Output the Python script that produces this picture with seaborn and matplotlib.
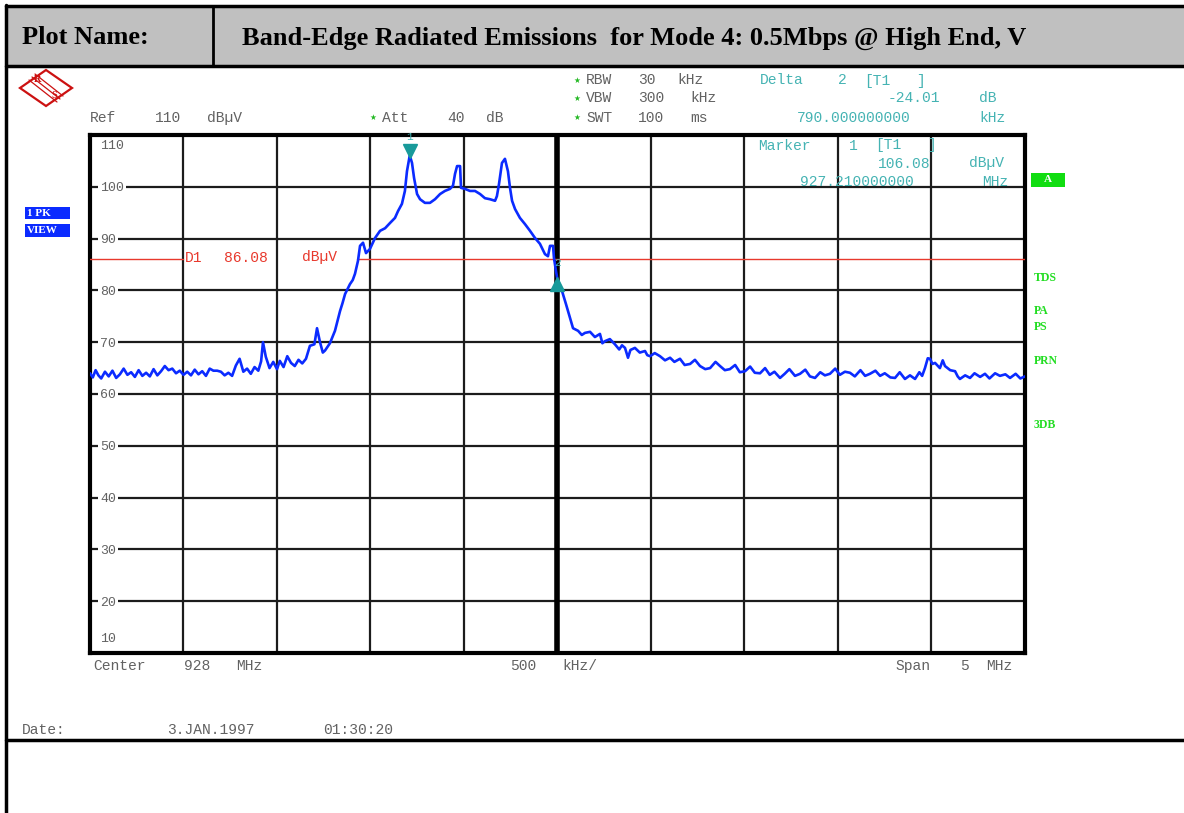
import re
import numpy as np
import pandas as pd
import matplotlib
matplotlib.use("Agg")
import matplotlib.pyplot as plt
import matplotlib.transforms as mtransforms
from matplotlib.patches import Rectangle, Polygon
from matplotlib.lines import Line2D
import seaborn as sns

# ---------------- data ----------------
freq_mhz = [
    925.500, 925.515, 925.530, 925.545, 925.560, 925.580, 925.600, 925.620, 925.640, 925.660,
    925.680, 925.700, 925.720, 925.740, 925.760, 925.780, 925.800, 925.820, 925.840, 925.860,
    925.880, 925.900, 925.920, 925.940, 925.960, 925.980, 926.000, 926.020, 926.040, 926.060,
    926.080, 926.100, 926.120, 926.140, 926.160, 926.180, 926.200, 926.220, 926.240, 926.260,
    926.280, 926.300, 926.320, 926.340, 926.360, 926.380, 926.400, 926.415, 926.425, 926.440,
    926.460, 926.480, 926.500, 926.515, 926.535, 926.555, 926.575, 926.595, 926.615, 926.635,
    926.655, 926.676, 926.700, 926.714, 926.730, 926.745, 926.757, 926.783,
    926.810, 926.837, 926.850, 926.864, 926.890, 926.905, 926.917, 926.933, 926.944, 926.960,
    926.976, 926.997, 927.024, 927.051, 927.078, 927.104, 927.131, 927.147, 927.168, 927.184,
    927.195, 927.210, 927.222, 927.233, 927.249, 927.265, 927.291, 927.318, 927.345, 927.372,
    927.398, 927.425, 927.441, 927.452, 927.463, 927.479, 927.484, 927.505, 927.532, 927.559,
    927.586, 927.612, 927.639, 927.666, 927.676, 927.687, 927.703, 927.719, 927.735, 927.746,
    927.757, 927.773, 927.799, 927.826, 927.853, 927.880, 927.906, 927.933, 927.949, 927.960,
    927.976, 927.981, 927.992, 928.000, 928.024, 928.045, 928.067, 928.083, 928.110, 928.130,
    928.147, 928.174,
    928.200, 928.227, 928.240, 928.254, 928.280, 928.307, 928.330, 928.345, 928.361, 928.377,
    928.390, 928.414, 928.440, 928.468, 928.480, 928.495, 928.520, 928.548, 928.575, 928.602,
    928.625, 928.655, 928.680, 928.709, 928.735, 928.762, 928.790, 928.816, 928.845, 928.869,
    928.895, 928.922, 928.950, 928.975, 929.003, 929.030, 929.055, 929.083, 929.110, 929.135,
    929.160, 929.190, 929.215, 929.240, 929.270, 929.297, 929.325, 929.350, 929.377, 929.405,
    929.430, 929.457, 929.485, 929.510, 929.537, 929.564, 929.590, 929.620, 929.645, 929.671,
    929.700, 929.725, 929.750, 929.780, 929.805, 929.830, 929.858, 929.885, 929.912, 929.935,
    929.950, 929.965, 929.980, 929.992, 930.005, 930.019, 930.045, 930.060, 930.072, 930.100,
    930.126, 930.140, 930.152, 930.180, 930.206, 930.230, 930.260, 930.286, 930.310, 930.340,
    930.366, 930.395, 930.420, 930.450, 930.475, 930.500,
]
level_dbuv = [
    64.0, 63.2, 64.6, 63.6, 63.0, 64.3, 63.4, 64.5, 63.1, 63.8,
    64.9, 63.7, 64.2, 63.3, 64.6, 63.5, 64.1, 63.4, 64.8, 63.6,
    64.4, 65.4, 64.6, 64.9, 64.0, 64.5, 63.7, 64.3, 63.6, 64.7,
    63.8, 64.4, 63.5, 64.9, 64.5, 64.5, 64.3, 63.6, 64.1, 63.5,
    65.5, 66.8, 64.3, 64.9, 63.9, 65.2, 64.5, 66.3, 70.0, 67.2,
    65.0, 66.2, 64.8, 66.4, 65.2, 67.3, 66.0, 65.4, 66.6, 65.9,
    66.8, 69.3, 69.6, 72.7, 70.0, 68.0, 68.4, 69.8,
    72.2, 76.0, 77.5, 79.3, 81.2, 82.0, 83.2, 85.7, 88.6, 89.2,
    87.2, 88.0, 90.1, 91.5, 92.0, 93.0, 94.0, 95.3, 96.7, 99.2,
    103.0, 106.08, 104.6, 101.7, 98.6, 97.6, 96.9, 96.9, 97.6, 98.6,
    99.2, 99.6, 100.2, 102.5, 104.0, 104.0, 99.8, 99.6, 99.2, 99.2,
    98.6, 97.8, 97.6, 97.3, 98.2, 100.5, 104.6, 105.4, 103.0, 99.8,
    97.3, 95.7, 94.0, 92.8, 91.5, 90.1, 89.0, 87.0, 86.6, 88.6,
    88.6, 86.3, 83.7, 82.07, 79.9, 77.4, 74.7, 72.7, 72.2, 71.4,
    71.8, 72.0,
    71.0, 71.6, 69.8, 70.2, 70.6, 69.6, 68.6, 69.4, 68.9, 67.0,
    68.5, 68.9, 68.0, 68.3, 67.5, 67.3, 67.9, 67.3, 66.5, 67.0,
    66.2, 66.8, 65.6, 65.8, 66.6, 65.4, 64.8, 65.0, 66.2, 65.4,
    64.6, 64.8, 65.6, 64.2, 64.4, 65.3, 64.1, 64.0, 65.0, 63.7,
    64.3, 63.1, 63.9, 64.8, 63.5, 63.9, 64.7, 63.4, 63.1, 64.2,
    63.6, 63.9, 64.9, 63.7, 64.3, 64.1, 63.4, 64.6, 63.5, 63.9,
    64.5, 63.5, 64.0, 63.2, 63.1, 64.2, 62.9, 63.6, 62.9, 64.2,
    63.5, 65.0, 66.9, 66.8, 65.8, 66.0, 65.0, 66.5, 65.4, 64.6,
    64.4, 63.4, 62.9, 63.6, 63.1, 64.0, 63.3, 63.9, 63.0, 64.0,
    63.5, 63.8, 63.1, 63.9, 63.0, 63.4,
]
marker_freq = [927.21, 928.00]
marker_level = [106.08, 82.07]
marker_names = ["1", "2"]
display_line_level = 86.08
x_ticks = [925.5, 926.0, 926.5, 927.0, 927.5, 928.0, 928.5, 929.0, 929.5, 930.0, 930.5]
y_ticks = [10, 20, 30, 40, 50, 60, 70, 80, 90, 100, 110]
y_tick_labels = ["10", "20", "30", "40", "50", "60", "70", "80", "90", "100", "110"]

# ---------------- style ----------------
sns.set_style("white")
plt.rcParams["font.family"] = ["Liberation Mono", "DejaVu Sans Mono", "DejaVu Sans"]
plt.rcParams["text.color"] = "black"

W, H = 1184, 813
fig = plt.figure(figsize=(W / 100, H / 100), dpi=100)
fig.patch.set_facecolor("white")


def fx(x):
    return x / W


def fy(y):
    return 1 - y / H


GRAY = "#626262"
TEAL_TXT = "#45B3B3"
TEAL = "#189A9A"
RED = "#E8392D"
GREEN = "#22DD22"
BLUE = "#0B2BFF"
PITCH = 13.0


def mono(x0, y, s, color=GRAY, size=10.5, right=None, **kw):
    if right is not None:
        x0 = right - len(s) * PITCH
    for m in re.finditer(r"\S+", s):
        fig.text(fx(x0 + m.start() * PITCH), fy(y), m.group(), color=color,
                 fontsize=size, family="Liberation Mono", ha="left",
                 va="center_baseline", **kw)


def star(x, y):
    fig.text(fx(x), fy(y), "\u2605", color="#22B822", fontsize=5.5,
             family="DejaVu Sans", ha="center", va="center")


def fline(xs, ys, lw=2.0, color="black"):
    fig.add_artist(Line2D([fx(v) for v in xs], [fy(v) for v in ys], lw=lw,
                          color=color, transform=fig.transFigure))


# ---------------- page frame / header ----------------
fig.add_artist(Rectangle((fx(6), fy(66)), fx(1184) - fx(6), fy(6) - fy(66),
                         transform=fig.transFigure, facecolor="#C0C0C0",
                         edgecolor="none", zorder=0))
fline([6, 1184], [6, 6], lw=2.5)
fline([6, 1184], [66, 66], lw=2.5)
fline([6, 6], [5, 813], lw=2.5)
fline([213, 213], [6, 66], lw=2.0)
fline([6, 1184], [740, 740], lw=2.5)

fig.text(fx(22), fy(38), "Plot Name:", family="Liberation Serif", weight="bold",
         fontsize=19, ha="left", va="center", color="black")
fig.text(fx(242), fy(38), "Band-Edge Radiated Emissions  for Mode 4: 0.5Mbps @ High End, V",
         family="Liberation Serif", weight="bold", fontsize=19, ha="left", va="center",
         color="black")

# R&S logo
fig.add_artist(Polygon([(fx(20), fy(88)), (fx(46), fy(70)), (fx(72), fy(88)), (fx(46), fy(106))],
                       closed=True, fill=False, edgecolor="#CC1111", lw=1.6,
                       transform=fig.transFigure))
for d in (-3, 0, 3):
    fline([32 + d, 60 + d], [77 - d, 99 - d], lw=0.9, color="#CC1111")
fig.text(fx(38), fy(80), "R", color="#CC1111", fontsize=7.5, weight="bold",
         family="Liberation Serif", ha="center", va="center")
fig.text(fx(54), fy(96), "S", color="#CC1111", fontsize=7.5, weight="bold",
         family="Liberation Serif", ha="center", va="center")

# ---------------- instrument header texts ----------------
mono(90, 116, "Ref  110 dBµV")
star(373, 117)
mono(382, 116, "Att  40 dB")
star(577, 80)
mono(586, 79, "RBW 30 kHz")
star(577, 98)
mono(586, 97, "VBW 300 kHz")
star(577, 117)
mono(586, 116, "SWT 100 ms")
mono(760, 79, "Delta 2 [T1 ]", color=TEAL_TXT)
mono(0, 97, "-24.01 dB", color=TEAL_TXT, right=1005)
mono(0, 116, "790.000000000 kHz", color=TEAL_TXT, right=1018)

# ---------------- the trace ----------------
ax = fig.add_axes([fx(90), fy(653), fx(1025) - fx(90), fy(135) - fy(653)])
df = pd.DataFrame({"Frequency (MHz)": freq_mhz, "Level (dBµV)": level_dbuv})
sns.lineplot(data=df, x="Frequency (MHz)", y="Level (dBµV)", ax=ax, color=BLUE,
             linewidth=1.9, estimator=None, sort=False, zorder=4)
ax.set_xlim(x_ticks[0], x_ticks[-1])
ax.set_ylim(y_ticks[0], y_ticks[-1])
ax.set_xticks(x_ticks)
ax.set_yticks(y_ticks)
ax.grid(True, color="#1c1c1c", lw=1.6)
ax.tick_params(length=0, labelbottom=False, labelleft=False)
ax.set_xlabel("")
ax.set_ylabel("")
for sp in ax.spines.values():
    sp.set_visible(True)
    sp.set_linewidth(3)
    sp.set_color("black")
ax.axvline(928.0, color="black", lw=4, zorder=3)

# display line D1 (label interrupts the line)
ax.axhline(display_line_level, xmin=0, xmax=(183 - 90) / 935, color=RED, lw=1.0, zorder=3)
ax.axhline(display_line_level, xmin=(357 - 90) / 935, xmax=1, color=RED, lw=1.0, zorder=3)
mono(185, 256, "D1 86.08 dBµV", color=RED)

# y labels inside plot
ytr = ax.get_yaxis_transform()
for v, lab in zip(y_ticks, y_tick_labels):
    if v == y_ticks[-1]:
        ax.annotate(lab, xy=(10 / 935, v), xycoords=ytr, xytext=(0, -5),
                    textcoords="offset pixels", va="top", ha="left", color=GRAY,
                    fontsize=9.5, family="Liberation Mono", zorder=7)
    elif v == y_ticks[0]:
        ax.annotate(lab, xy=(10 / 935, v), xycoords=ytr, xytext=(0, 8),
                    textcoords="offset pixels", va="bottom", ha="left", color=GRAY,
                    fontsize=9.5, family="Liberation Mono", zorder=7)
    else:
        ax.annotate(lab, xy=(10 / 935, v), xycoords=ytr, xytext=(0, 0),
                    textcoords="offset pixels", va="center_baseline", ha="left",
                    color=GRAY, fontsize=9.5, family="Liberation Mono", zorder=7,
                    bbox=dict(facecolor="white", edgecolor="none", pad=1.5))

# markers
for f, lvl, name, mk, dy, ly in zip(marker_freq, marker_level, marker_names,
                                    ["v", "^"], [4, -4], [18, 17]):
    tr = mtransforms.offset_copy(ax.transData, fig=fig, x=0, y=dy, units="dots")
    ax.plot([f], [lvl], marker=mk, ms=10, color=TEAL, transform=tr, zorder=6,
            clip_on=False, linestyle="none")
    ax.annotate(name, xy=(f, lvl), xytext=(0, ly), textcoords="offset pixels",
                ha="center", va="center", color=TEAL_TXT, fontsize=8,
                family="Liberation Mono", zorder=7, annotation_clip=False)

# marker readout inside plot
mono(758, 144, "Marker 1 [T1 ]", color=TEAL_TXT)
mono(0, 162, "106.08 dBµV", color=TEAL_TXT, right=1021)
mono(0, 181, "927.210000000 MHz", color=TEAL_TXT, right=1021)

# ---------------- side annotations ----------------
fig.add_artist(Rectangle((fx(1031), fy(187)), fx(1065) - fx(1031), fy(173) - fy(187),
                         transform=fig.transFigure, facecolor="#11DD11", edgecolor="none"))
fig.text(fx(1048), fy(180), "A", color="white", fontsize=8, weight="bold",
         family="Liberation Serif", ha="center", va="center")
for lab, y in [("TDS", 278), ("PA", 311), ("PS", 327), ("PRN", 361), ("3DB", 425)]:
    fig.text(fx(1034), fy(y), lab, color=GREEN, fontsize=8.5, weight="bold",
             family="Liberation Serif", ha="left", va="center")

for lab, y0, y1 in [("1 PK", 207, 219), ("VIEW", 224, 237)]:
    fig.add_artist(Rectangle((fx(25), fy(y1)), fx(70) - fx(25), fy(y0) - fy(y1),
                             transform=fig.transFigure, facecolor=BLUE, edgecolor="none"))
    fig.text(fx(27), fy((y0 + y1) / 2), lab, color="white", fontsize=8, weight="bold",
             family="Liberation Serif", ha="left", va="center")

# ---------------- footer texts ----------------
mono(93, 664, "Center 928 MHz")
mono(510, 664, "500 kHz/")
mono(0, 664, "Span 5 MHz", right=1025)
mono(22, 728, "Date:")
mono(167, 728, "3.JAN.1997  01:30:20")

fig.savefig("out.png", dpi=100)
